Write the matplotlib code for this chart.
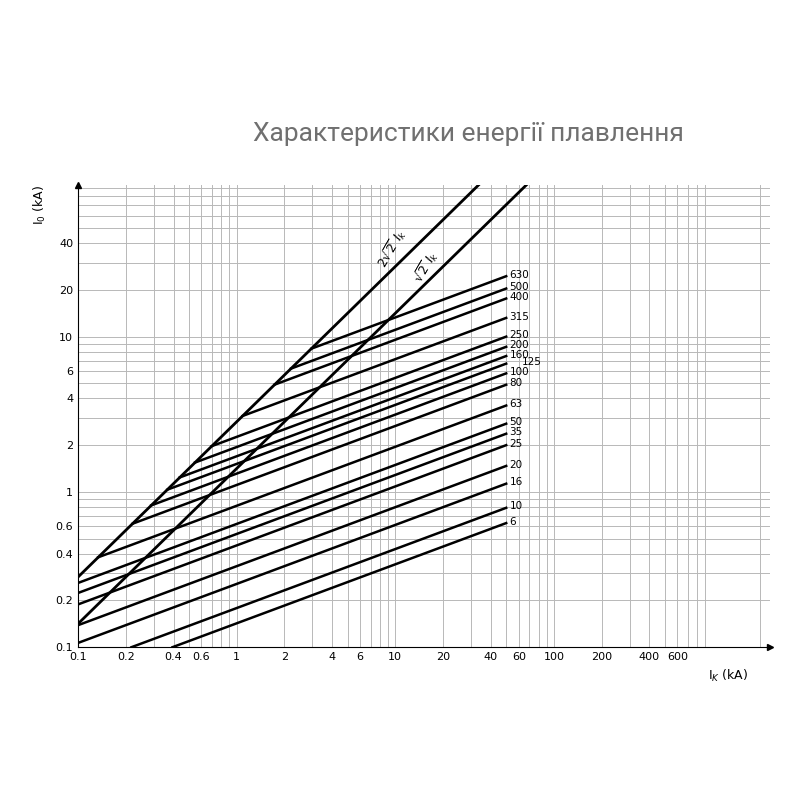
import matplotlib.pyplot as plt
import numpy as np

plt.rcParams['font.family'] = ['DejaVu Sans']

# fuse ratings and their let-through current at Ik = 50 kA
ratings = ['630', '500', '400', '315', '250', '200', '160', '125', '100', '80',
           '63', '50', '35', '25', '20', '16', '10', '6']
end_vals = [24.5, 20.4, 17.6, 13.2, 10.0, 8.6, 7.5, 6.7, 5.8, 4.9,
            3.6, 2.75, 2.37, 2.0, 1.47, 1.13, 0.79, 0.63]
slope = 0.38
x_end = 50.0

xticks = [0.1, 0.2, 0.4, 0.6, 1, 2, 4, 6, 10, 20, 40, 60, 100, 200, 400, 600]
xtick_labels = ['0.1', '0.2', '0.4', '0.6', '1', '2', '4', '6', '10', '20',
                '40', '60', '100', '200', '400', '600']
yticks = [0.1, 0.2, 0.4, 0.6, 1, 2, 4, 6, 10, 20, 40]
ytick_labels = ['0.1', '0.2', '0.4', '0.6', '1', '2', '4', '6', '10', '20', '40']

fig = plt.figure(figsize=(8, 8), dpi=100)
fig.text(0.585, 0.833, 'Характеристики енергії плавлення', ha='center',
         va='center', fontsize=19, color='#707070', family=['Roboto', 'DejaVu Sans'])
ax = fig.add_axes([0.0975, 0.191, 0.865, 0.578])
ax.set_xscale('log')
ax.set_yscale('log')
ax.set_xlim(0.1, 2300)
ax.set_ylim(0.1, 95)

ax.grid(True, which='both', color='#b8b8b8', linewidth=0.7)
ax.set_axisbelow(True)
for s in ['top', 'right']:
    ax.spines[s].set_visible(False)
ax.plot(1, 0, '>k', transform=ax.transAxes, clip_on=False, ms=5)
ax.plot(0, 1, '^k', transform=ax.transAxes, clip_on=False, ms=5)

ax.set_xticks(xticks)
ax.set_xticklabels(xtick_labels, fontsize=8)
ax.set_yticks(yticks)
ax.set_yticklabels(ytick_labels, fontsize=8)
ax.tick_params(which='both', length=0)
ax.minorticks_on()
ax.tick_params(which='minor', length=0, labelbottom=False, labelleft=False)
ax.xaxis.set_minor_formatter(plt.NullFormatter())
ax.yaxis.set_minor_formatter(plt.NullFormatter())

# peak lines
xx = np.logspace(-1, 3, 200)
ax.plot(xx, 2 * np.sqrt(2) * xx, 'k', lw=2)
ax.plot(xx, np.sqrt(2) * xx, 'k', lw=2)
ax.text(9.5, 37, r'$2\sqrt{2}\ I_k$', rotation=60, fontsize=9, ha='center', va='center')
ax.text(15.5, 28, r'$\sqrt{2}\ I_k$', rotation=60, fontsize=9, ha='center', va='center')

for lab, v in zip(ratings, end_vals):
    # start where line meets 2*sqrt2*Ik, left edge, or bottom
    k = v / x_end ** slope
    x_peak = (k / (2 * np.sqrt(2))) ** (1 / (1 - slope))
    x_bot = (0.1 / k) ** (1 / slope)
    x0 = max(0.1, x_peak, x_bot)
    xs = np.logspace(np.log10(x0), np.log10(x_end), 50)
    ax.plot(xs, k * xs ** slope, 'k', lw=1.8)
    dx = 1.25 if lab == '125' else 1.05
    ax.text(x_end * dx, v * 1.02, lab, fontsize=7.5, ha='left', va='center')

ax.text(-0.055, 1.0, r'I$_0$ (kA)', rotation=90, transform=ax.transAxes,
        fontsize=9, ha='center', va='top')
ax.text(0.94, -0.045, r'I$_K$ (kA)', transform=ax.transAxes,
        fontsize=9, ha='center', va='top')

fig.savefig('out.png', dpi=100)
